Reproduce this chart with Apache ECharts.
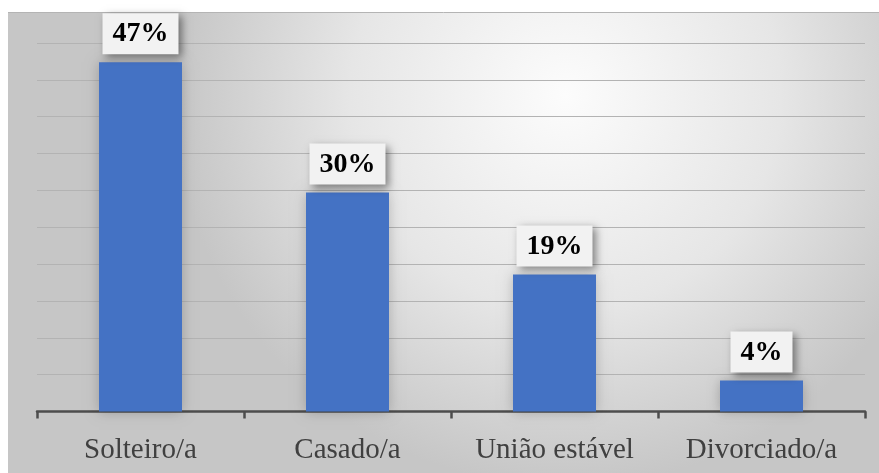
<!DOCTYPE html>
<html>
<head>
<meta charset="utf-8">
<script src="https://cdn.jsdelivr.net/npm/echarts@6/dist/echarts.min.js"></script>
<style>html,body{margin:0;padding:0;background:#fff}#c{width:879px;height:473px}</style>
</head>
<body>
<div id="c"></div>
<script>
const categories = ['Solteiro/a', 'Casado/a', 'União estável', 'Divorciado/a'];
const values = [47.4, 29.7, 18.6, 4.2];
const valueLabels = ['47%', '30%', '19%', '4%'];
const yMin = 0, yMax = 50, yInterval = 5;

const chart = echarts.init(document.getElementById('c'), null, {renderer: 'canvas'});
chart.setOption({
  animation: false,
  backgroundColor: '#ffffff',
  graphic: [{
    type: 'rect', z: -10, silent: true,
    shape: {x: 8, y: 12, width: 871, height: 461},
    style: {
      fill: {type: 'radial', x: 0.64, y: 0.18, r: 0.85,
        colorStops: [{offset: 0, color: '#fcfcfc'}, {offset: 0.55, color: '#e6e6e6'}, {offset: 1, color: '#c6c6c6'}]}
    }
  }, {
    type: 'line', z: -9, silent: true,
    shape: {x1: 8, y1: 12.5, x2: 879, y2: 12.5},
    style: {stroke: '#b4b4b4', lineWidth: 1}
  }],
  grid: {left: 37, right: 14, top: 43, bottom: 61.5, containLabel: false},
  xAxis: {
    type: 'category', data: categories,
    axisLine: {show: true, lineStyle: {color: '#4d4d4d', width: 2.5}},
    axisTick: {show: true, length: 7, lineStyle: {color: '#4d4d4d', width: 2.5}},
    axisLabel: {color: '#404040', fontFamily: 'Liberation Serif', fontSize: 29, margin: 24},
    splitLine: {show: false}
  },
  yAxis: {
    type: 'value', min: yMin, max: yMax, interval: yInterval,
    axisLine: {show: false}, axisTick: {show: false}, axisLabel: {show: false},
    splitLine: {show: true, lineStyle: {color: '#b3b3b3', width: 1}}
  },
  series: [{
    type: 'bar', data: values, barWidth: 83, z: 2,
    itemStyle: {color: '#4472C4', shadowBlur: 12, shadowColor: 'rgba(0,0,0,0.22)'},
    label: {
      show: true, position: 'top', distance: 8,
      formatter: p => valueLabels[p.dataIndex],
      fontFamily: 'Liberation Serif', fontWeight: 'bold', fontSize: 28, color: '#000',
      backgroundColor: '#f2f2f2', padding: [7, 10, 6, 10],
      shadowBlur: 8, shadowColor: 'rgba(0,0,0,0.45)', shadowOffsetX: 3, shadowOffsetY: 3
    }
  }]
});
</script>
</body>
</html>
